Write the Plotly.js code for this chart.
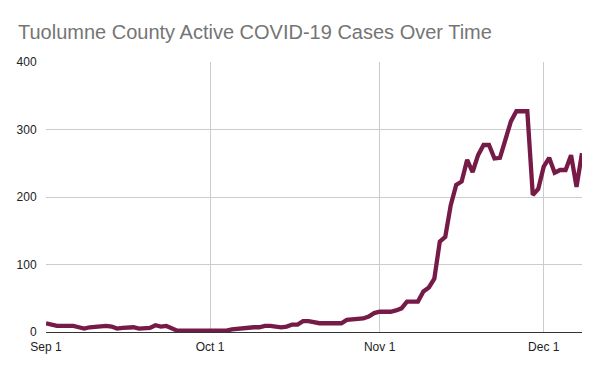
<!DOCTYPE html>
<html>
<head>
<meta charset="utf-8">
<script src="https://cdn.plot.ly/plotly-3.0.1.min.js"></script>
<style>html,body{margin:0;padding:0;background:#fff;}#chart{width:600px;height:371px;}</style>
</head>
<body>
<div id="chart"></div>
<script>
// Daily active cases, starting Sep 1, 2020 (one value per day through Dec 8)
const startDate = '2020-09-01';
const activeCases = [
  // Sep
  13, 11, 9, 9, 9, 9, 7, 5, 7, 8, 9, 9, 8, 5, 6, 6, 7, 5, 5, 6,
  10, 8, 9, 5, 2, 2, 2, 2, 2, 2,
  // Oct
  2, 2, 2, 2, 4, 5, 5, 6, 7, 7, 9, 9, 8, 7, 8, 11, 11, 16, 16, 14,
  13, 13, 13, 13, 13, 18, 19, 20, 20, 23, 28,
  // Nov
  30, 30, 30, 32, 35, 45, 45, 45, 60, 66, 79, 134, 141, 188, 218, 223, 255, 237, 262, 277,
  277, 257, 258, 287, 312, 327, 327, 327, 203, 212,
  // Dec
  245, 258, 236, 240, 240, 262, 215, 265
];
const tickVals = ['2020-09-01', '2020-10-01', '2020-11-01', '2020-12-01'];
const tickText = ['Sep 1', 'Oct 1', 'Nov 1', 'Dec 1'];
const yTicks = [0, 100, 200, 300, 400];
const titleText = 'Tuolumne County Active COVID-19 Cases Over Time';

// build date list (one per value)
const dates = activeCases.map((_, i) => {
  const d = new Date(startDate + 'T00:00:00Z');
  d.setUTCDate(d.getUTCDate() + i);
  return d.toISOString().slice(0, 10);
});

const trace = {
  x: dates,
  y: activeCases,
  type: 'scatter',
  mode: 'lines',
  line: {color: '#761a47', width: 4.3},
  hoverinfo: 'skip'
};

const layout = {
  width: 600,
  height: 371,
  margin: {l: 46, r: 18, t: 62, b: 39},
  paper_bgcolor: '#ffffff',
  plot_bgcolor: '#ffffff',
  font: {family: '"Liberation Sans", Arial, sans-serif', size: 12, color: '#222222'},
  title: {
    text: titleText,
    font: {family: '"Liberation Sans", Arial, sans-serif', size: 20, color: '#757575'},
    x: 18 / 600, xref: 'container', xanchor: 'left',
    y: 1 - 32 / 371, yref: 'container', yanchor: 'middle'
  },
  showlegend: false,
  xaxis: {
    type: 'date',
    range: [dates[0], dates[dates.length - 1]],
    tickmode: 'array',
    tickvals: tickVals,
    ticktext: tickText,
    showgrid: true,
    gridcolor: '#cccccc',
    gridwidth: 1,
    zeroline: false,
    showline: true,
    linecolor: '#333333',
    linewidth: 1,
    ticks: 'outside',
    ticklen: 4,
    tickcolor: 'rgba(0,0,0,0)',
    tickfont: {size: 12, color: '#222222'}
  },
  yaxis: {
    range: [0, 400],
    tickmode: 'array',
    tickvals: yTicks,
    showgrid: true,
    gridcolor: '#cccccc',
    gridwidth: 1,
    zeroline: false,
    showline: false,
    ticks: 'outside',
    ticklen: 6,
    tickcolor: 'rgba(0,0,0,0)',
    tickfont: {size: 12, color: '#222222'}
  }
};

Plotly.newPlot('chart', [trace], layout, {displayModeBar: false, staticPlot: true});
</script>
</body>
</html>
